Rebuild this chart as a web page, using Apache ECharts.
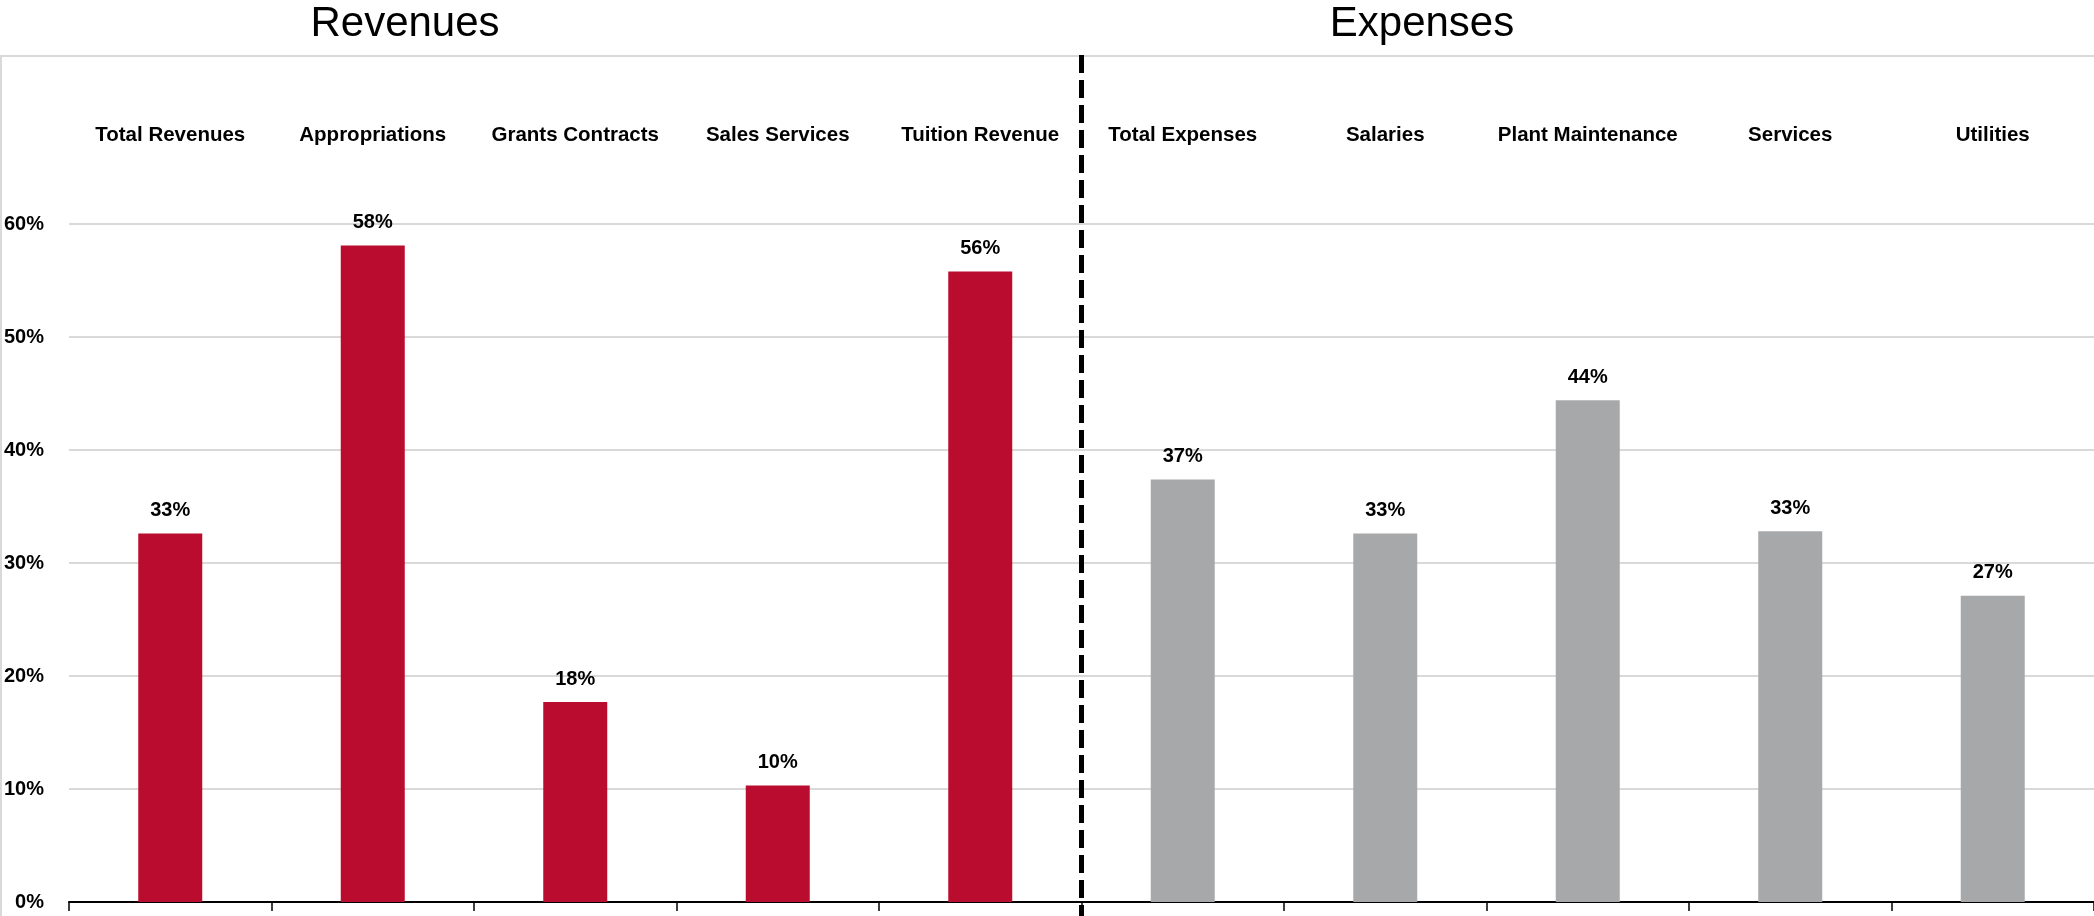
<!DOCTYPE html>
<html>
<head>
<meta charset="utf-8">
<script src="https://cdn.jsdelivr.net/npm/echarts@6/dist/echarts.min.js"></script>
<style>
  html, body { margin: 0; padding: 0; background: #fff; }
  #chart { width: 2094px; height: 916px; }
</style>
</head>
<body>
<div id="chart"></div>
<script>
// Category names, left half are revenue lines, right half expense lines
const revenueCategories = ['Total Revenues', 'Appropriations', 'Grants Contracts', 'Sales Services', 'Tuition Revenue'];
const expenseCategories = ['Total Expenses', 'Salaries', 'Plant Maintenance', 'Services', 'Utilities'];
const categories = revenueCategories.concat(expenseCategories);

// Percentage values
const revenueValues = [32.6, 58.1, 17.7, 10.3, 55.8];
const expenseValues = [37.4, 32.6, 44.4, 32.8, 27.1];

// Value-axis ticks
const yTicks = [0, 10, 20, 30, 40, 50, 60];

const RED = '#BA0C2F';
const GRAY = '#A7A8AA';
const FONT = '"Liberation Sans", Arial, sans-serif';

const blanks = n => Array(n).fill('-');
const revenueSeriesData = revenueValues.concat(blanks(expenseCategories.length));
const expenseSeriesData = blanks(revenueCategories.length).concat(expenseValues);

const valueLabel = {
  show: true,
  position: 'top',
  distance: 13,
  fontFamily: FONT,
  fontWeight: 'bold',
  fontSize: 20,
  color: '#000',
  formatter: p => Math.round(p.value) + '%'
};

const chart = echarts.init(document.getElementById('chart'), null, { renderer: 'canvas' });

chart.setOption({
  animation: false,
  backgroundColor: '#fff',
  grid: { left: 69, right: 0, top: 224, bottom: 14, containLabel: false },
  xAxis: [
    {
      type: 'category',
      data: categories,
      position: 'bottom',
      axisLine: { show: true, lineStyle: { color: '#000', width: 2 } },
      axisTick: { show: true, length: 9, lineStyle: { color: '#000', width: 1.5 } },
      axisLabel: { show: false }
    },
    {
      type: 'category',
      data: categories,
      position: 'top',
      axisLine: { show: false },
      axisTick: { show: false },
      axisLabel: {
        show: true,
        margin: 78,
        fontFamily: FONT,
        fontWeight: 'bold',
        fontSize: 20.5,
        color: '#000',
        interval: 0
      }
    }
  ],
  yAxis: {
    type: 'value',
    min: yTicks[0],
    max: yTicks[yTicks.length - 1],
    interval: 10,
    axisLine: { show: false },
    axisTick: { show: false },
    splitLine: { show: true, lineStyle: { color: '#D9D9D9', width: 2 } },
    axisLabel: {
      margin: 25,
      fontFamily: FONT,
      fontWeight: 'bold',
      fontSize: 20,
      color: '#000',
      formatter: '{value}%'
    }
  },
  series: [
    {
      name: 'Revenues',
      type: 'bar',
      xAxisIndex: 0,
      data: revenueSeriesData,
      barWidth: 64,
      barGap: '-100%',
      itemStyle: { color: RED },
      label: valueLabel
    },
    {
      name: 'Expenses',
      type: 'bar',
      xAxisIndex: 0,
      data: expenseSeriesData,
      barWidth: 64,
      barGap: '-100%',
      itemStyle: { color: GRAY },
      label: valueLabel
    }
  ]
});

// Section headings, frame and the dashed divider between the two halves
const leftEdge = chart.convertToPixel({ xAxisIndex: 0 }, revenueCategories[revenueCategories.length - 1]);
const rightEdge = chart.convertToPixel({ xAxisIndex: 0 }, expenseCategories[0]);
const dividerX = (leftEdge + rightEdge) / 2;

chart.setOption({
  graphic: [
    {
      type: 'line',
      shape: { x1: 0, y1: 56, x2: 2094, y2: 56 },
      style: { stroke: '#D9D9D9', lineWidth: 2 },
      z: 1
    },
    {
      type: 'line',
      shape: { x1: 1, y1: 56, x2: 1, y2: 916 },
      style: { stroke: '#D9D9D9', lineWidth: 2 },
      z: 1
    },
    {
      type: 'line',
      shape: { x1: dividerX, y1: 55, x2: dividerX, y2: 916 },
      style: { stroke: '#000', lineWidth: 5, lineDash: [18, 7] },
      z: 10
    },
    {
      type: 'text',
      x: 405,
      y: 24,
      style: {
        text: 'Revenues',
        font: '42px ' + FONT,
        fill: '#000',
        align: 'center',
        verticalAlign: 'middle'
      }
    },
    {
      type: 'text',
      x: 1422,
      y: 24,
      style: {
        text: 'Expenses',
        font: '42px ' + FONT,
        fill: '#000',
        align: 'center',
        verticalAlign: 'middle'
      }
    }
  ]
});
</script>
</body>
</html>
